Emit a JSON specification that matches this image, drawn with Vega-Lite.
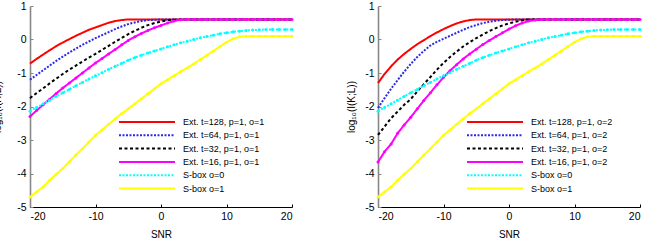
{
  "$schema": "https://vega.github.io/schema/vega-lite/v6.json",
  "padding": {"left": -8, "top": 1, "right": 0, "bottom": 0},
  "background": "white",
  "spacing": 50,
  "config": {
    "view": {"stroke": null},
    "font": "Liberation Sans",
    "axis": {
      "grid": false,
      "labelFont": "Liberation Sans",
      "labelFontSize": 10.5,
      "labelColor": "#000",
      "labelOverlap": false,
      "labelExpr": "'' + datum.value",
      "titleFont": "Liberation Sans",
      "titleFontSize": 10,
      "titleFontWeight": "normal",
      "titleColor": "#000",
      "tickSize": -3,
      "labelPadding": 7
    },
    "axisX": {"domainColor": "#000", "tickColor": "#000", "domainWidth": 1.2},
    "axisY": {"domainColor": "#888", "tickColor": "#888", "domainWidth": 1.6},
    "legend": {
      "orient": "none",
      "legendX": 111,
      "legendY": 110,
      "symbolType": "M-5.6,0H5.6",
      "symbolSize": 100,
      "symbolStrokeWidth": 2,
      "labelFont": "Liberation Sans",
      "labelFontSize": 9,
      "labelColor": "#000",
      "labelOffset": 30,
      "rowPadding": 2.3,
      "title": null
    }
  },
  "datasets": {
    "curves": [
      {"g":"o1","s":"r","x":-20,"v":-0.72},{"g":"o1","s":"r","x":-19,"v":-0.58},{"g":"o1","s":"r","x":-18,"v":-0.45},{"g":"o1","s":"r","x":-17,"v":-0.32},
      {"g":"o1","s":"r","x":-16,"v":-0.2},{"g":"o1","s":"r","x":-15,"v":-0.09},{"g":"o1","s":"r","x":-14,"v":0.01},{"g":"o1","s":"r","x":-13,"v":0.11},
      {"g":"o1","s":"r","x":-12,"v":0.2},{"g":"o1","s":"r","x":-11,"v":0.29},{"g":"o1","s":"r","x":-10,"v":0.36},{"g":"o1","s":"r","x":-9,"v":0.43},
      {"g":"o1","s":"r","x":-8,"v":0.5},{"g":"o1","s":"r","x":-7,"v":0.55},{"g":"o1","s":"r","x":-6,"v":0.58},{"g":"o1","s":"r","x":-5,"v":0.6},
      {"g":"o1","s":"r","x":20,"v":0.6},

      {"g":"o1","s":"b","x":-20,"v":-1.2},{"g":"o1","s":"b","x":-19,"v":-1.06},{"g":"o1","s":"b","x":-18,"v":-0.92},{"g":"o1","s":"b","x":-17,"v":-0.78},
      {"g":"o1","s":"b","x":-16,"v":-0.64},{"g":"o1","s":"b","x":-15,"v":-0.51},{"g":"o1","s":"b","x":-14,"v":-0.39},{"g":"o1","s":"b","x":-13,"v":-0.27},
      {"g":"o1","s":"b","x":-12,"v":-0.16},{"g":"o1","s":"b","x":-11,"v":-0.06},{"g":"o1","s":"b","x":-10,"v":0.04},{"g":"o1","s":"b","x":-9,"v":0.13},
      {"g":"o1","s":"b","x":-8,"v":0.22},{"g":"o1","s":"b","x":-7,"v":0.31},{"g":"o1","s":"b","x":-6,"v":0.39},{"g":"o1","s":"b","x":-5,"v":0.46},
      {"g":"o1","s":"b","x":-4,"v":0.51},{"g":"o1","s":"b","x":-3,"v":0.55},{"g":"o1","s":"b","x":-2,"v":0.58},{"g":"o1","s":"b","x":-1,"v":0.59},
      {"g":"o1","s":"b","x":0,"v":0.6},{"g":"o1","s":"b","x":20,"v":0.6},

      {"g":"o1","s":"k","x":-20,"v":-1.75},{"g":"o1","s":"k","x":-19,"v":-1.6},{"g":"o1","s":"k","x":-18,"v":-1.46},{"g":"o1","s":"k","x":-17,"v":-1.31},
      {"g":"o1","s":"k","x":-16,"v":-1.17},{"g":"o1","s":"k","x":-15,"v":-1.03},{"g":"o1","s":"k","x":-14,"v":-0.9},{"g":"o1","s":"k","x":-13,"v":-0.78},
      {"g":"o1","s":"k","x":-12,"v":-0.66},{"g":"o1","s":"k","x":-11,"v":-0.54},{"g":"o1","s":"k","x":-10,"v":-0.43},{"g":"o1","s":"k","x":-9,"v":-0.31},
      {"g":"o1","s":"k","x":-8,"v":-0.19},{"g":"o1","s":"k","x":-7,"v":-0.07},{"g":"o1","s":"k","x":-6,"v":0.05},{"g":"o1","s":"k","x":-5,"v":0.16},
      {"g":"o1","s":"k","x":-4,"v":0.26},{"g":"o1","s":"k","x":-3,"v":0.35},{"g":"o1","s":"k","x":-2,"v":0.43},{"g":"o1","s":"k","x":-1,"v":0.49},
      {"g":"o1","s":"k","x":0,"v":0.54},{"g":"o1","s":"k","x":1,"v":0.57},{"g":"o1","s":"k","x":2,"v":0.59},{"g":"o1","s":"k","x":3,"v":0.6},
      {"g":"o1","s":"k","x":20,"v":0.6},

      {"g":"o1","s":"m","x":-20,"v":-2.3},{"g":"o1","s":"m","x":-19,"v":-2.12},{"g":"o1","s":"m","x":-18,"v":-1.95},{"g":"o1","s":"m","x":-17,"v":-1.78},
      {"g":"o1","s":"m","x":-16,"v":-1.61},{"g":"o1","s":"m","x":-15,"v":-1.45},{"g":"o1","s":"m","x":-14,"v":-1.3},{"g":"o1","s":"m","x":-13,"v":-1.15},
      {"g":"o1","s":"m","x":-12,"v":-1.0},{"g":"o1","s":"m","x":-11,"v":-0.85},{"g":"o1","s":"m","x":-10,"v":-0.7},{"g":"o1","s":"m","x":-9,"v":-0.57},
      {"g":"o1","s":"m","x":-8,"v":-0.43},{"g":"o1","s":"m","x":-7,"v":-0.3},{"g":"o1","s":"m","x":-6,"v":-0.16},{"g":"o1","s":"m","x":-5,"v":-0.03},
      {"g":"o1","s":"m","x":-4,"v":0.08},{"g":"o1","s":"m","x":-3,"v":0.18},{"g":"o1","s":"m","x":-2,"v":0.27},{"g":"o1","s":"m","x":-1,"v":0.35},
      {"g":"o1","s":"m","x":0,"v":0.42},{"g":"o1","s":"m","x":1,"v":0.49},{"g":"o1","s":"m","x":2,"v":0.55},{"g":"o1","s":"m","x":3,"v":0.59},
      {"g":"o1","s":"m","x":4,"v":0.6},{"g":"o1","s":"m","x":5,"v":0.6},{"g":"o1","s":"m","x":6,"v":0.6},{"g":"o1","s":"m","x":7,"v":0.6},
      {"g":"o1","s":"m","x":8,"v":0.6},{"g":"o1","s":"m","x":9,"v":0.6},{"g":"o1","s":"m","x":10,"v":0.6},{"g":"o1","s":"m","x":11,"v":0.6},
      {"g":"o1","s":"m","x":12,"v":0.6},{"g":"o1","s":"m","x":13,"v":0.6},{"g":"o1","s":"m","x":14,"v":0.6},{"g":"o1","s":"m","x":15,"v":0.6},
      {"g":"o1","s":"m","x":16,"v":0.6},{"g":"o1","s":"m","x":17,"v":0.6},{"g":"o1","s":"m","x":18,"v":0.6},{"g":"o1","s":"m","x":19,"v":0.6},
      {"g":"o1","s":"m","x":20,"v":0.6},

      {"g":"o2","s":"r","x":-20,"v":-1.3},{"g":"o2","s":"r","x":-19,"v":-1.03},{"g":"o2","s":"r","x":-18,"v":-0.8},{"g":"o2","s":"r","x":-17,"v":-0.6},
      {"g":"o2","s":"r","x":-16,"v":-0.43},{"g":"o2","s":"r","x":-15,"v":-0.28},{"g":"o2","s":"r","x":-14,"v":-0.14},{"g":"o2","s":"r","x":-13,"v":-0.02},
      {"g":"o2","s":"r","x":-12,"v":0.1},{"g":"o2","s":"r","x":-11,"v":0.21},{"g":"o2","s":"r","x":-10,"v":0.31},{"g":"o2","s":"r","x":-9,"v":0.4},
      {"g":"o2","s":"r","x":-8,"v":0.48},{"g":"o2","s":"r","x":-7,"v":0.54},{"g":"o2","s":"r","x":-6,"v":0.58},{"g":"o2","s":"r","x":-5,"v":0.6},
      {"g":"o2","s":"r","x":20,"v":0.6},

      {"g":"o2","s":"b","x":-20,"v":-2.04},{"g":"o2","s":"b","x":-19,"v":-1.75},{"g":"o2","s":"b","x":-18,"v":-1.47},{"g":"o2","s":"b","x":-17,"v":-1.21},
      {"g":"o2","s":"b","x":-16,"v":-0.96},{"g":"o2","s":"b","x":-15,"v":-0.73},{"g":"o2","s":"b","x":-14,"v":-0.52},{"g":"o2","s":"b","x":-13,"v":-0.34},
      {"g":"o2","s":"b","x":-12,"v":-0.18},{"g":"o2","s":"b","x":-11,"v":-0.07},{"g":"o2","s":"b","x":-10,"v":0.02},{"g":"o2","s":"b","x":-9,"v":0.11},
      {"g":"o2","s":"b","x":-8,"v":0.2},{"g":"o2","s":"b","x":-7,"v":0.29},{"g":"o2","s":"b","x":-6,"v":0.37},{"g":"o2","s":"b","x":-5,"v":0.43},
      {"g":"o2","s":"b","x":-4,"v":0.49},{"g":"o2","s":"b","x":-3,"v":0.53},{"g":"o2","s":"b","x":-2,"v":0.56},{"g":"o2","s":"b","x":-1,"v":0.58},
      {"g":"o2","s":"b","x":0,"v":0.59},{"g":"o2","s":"b","x":1,"v":0.6},{"g":"o2","s":"b","x":20,"v":0.6},

      {"g":"o2","s":"k","x":-20,"v":-2.85},{"g":"o2","s":"k","x":-19,"v":-2.6},{"g":"o2","s":"k","x":-18,"v":-2.35},{"g":"o2","s":"k","x":-17,"v":-2.15},
      {"g":"o2","s":"k","x":-16,"v":-1.95},{"g":"o2","s":"k","x":-15,"v":-1.78},{"g":"o2","s":"k","x":-14,"v":-1.55},{"g":"o2","s":"k","x":-13,"v":-1.33},
      {"g":"o2","s":"k","x":-12,"v":-1.12},{"g":"o2","s":"k","x":-11,"v":-0.9},{"g":"o2","s":"k","x":-10,"v":-0.7},{"g":"o2","s":"k","x":-9,"v":-0.52},
      {"g":"o2","s":"k","x":-8,"v":-0.36},{"g":"o2","s":"k","x":-7,"v":-0.21},{"g":"o2","s":"k","x":-6,"v":-0.08},{"g":"o2","s":"k","x":-5,"v":0.04},
      {"g":"o2","s":"k","x":-4,"v":0.15},{"g":"o2","s":"k","x":-3,"v":0.25},{"g":"o2","s":"k","x":-2,"v":0.34},{"g":"o2","s":"k","x":-1,"v":0.42},
      {"g":"o2","s":"k","x":0,"v":0.48},{"g":"o2","s":"k","x":1,"v":0.53},{"g":"o2","s":"k","x":2,"v":0.57},{"g":"o2","s":"k","x":3,"v":0.6},
      {"g":"o2","s":"k","x":20,"v":0.6},

      {"g":"o2","s":"m","x":-20,"v":-3.66},{"g":"o2","s":"m","x":-19,"v":-3.35},{"g":"o2","s":"m","x":-18,"v":-3.12},{"g":"o2","s":"m","x":-17,"v":-2.8},
      {"g":"o2","s":"m","x":-16,"v":-2.55},{"g":"o2","s":"m","x":-15,"v":-2.32},{"g":"o2","s":"m","x":-14,"v":-2.07},{"g":"o2","s":"m","x":-13,"v":-1.82},
      {"g":"o2","s":"m","x":-12,"v":-1.59},{"g":"o2","s":"m","x":-11,"v":-1.35},{"g":"o2","s":"m","x":-10,"v":-1.13},{"g":"o2","s":"m","x":-9,"v":-0.93},
      {"g":"o2","s":"m","x":-8,"v":-0.75},{"g":"o2","s":"m","x":-7,"v":-0.58},{"g":"o2","s":"m","x":-6,"v":-0.43},{"g":"o2","s":"m","x":-5,"v":-0.29},
      {"g":"o2","s":"m","x":-4,"v":-0.15},{"g":"o2","s":"m","x":-3,"v":-0.03},{"g":"o2","s":"m","x":-2,"v":0.09},{"g":"o2","s":"m","x":-1,"v":0.2},
      {"g":"o2","s":"m","x":0,"v":0.31},{"g":"o2","s":"m","x":1,"v":0.41},{"g":"o2","s":"m","x":2,"v":0.49},{"g":"o2","s":"m","x":3,"v":0.55},
      {"g":"o2","s":"m","x":4,"v":0.58},{"g":"o2","s":"m","x":5,"v":0.6},{"g":"o2","s":"m","x":6,"v":0.6},{"g":"o2","s":"m","x":7,"v":0.6},
      {"g":"o2","s":"m","x":8,"v":0.6},{"g":"o2","s":"m","x":9,"v":0.6},{"g":"o2","s":"m","x":10,"v":0.6},{"g":"o2","s":"m","x":11,"v":0.6},
      {"g":"o2","s":"m","x":12,"v":0.6},{"g":"o2","s":"m","x":13,"v":0.6},{"g":"o2","s":"m","x":14,"v":0.6},{"g":"o2","s":"m","x":15,"v":0.6},
      {"g":"o2","s":"m","x":16,"v":0.6},{"g":"o2","s":"m","x":17,"v":0.6},{"g":"o2","s":"m","x":18,"v":0.6},{"g":"o2","s":"m","x":19,"v":0.6},
      {"g":"o2","s":"m","x":20,"v":0.6},

      {"g":"all","s":"c","x":-20,"v":-2.14},{"g":"all","s":"c","x":-19,"v":-2.03},{"g":"all","s":"c","x":-18,"v":-1.92},{"g":"all","s":"c","x":-17,"v":-1.81},
      {"g":"all","s":"c","x":-16,"v":-1.7},{"g":"all","s":"c","x":-15,"v":-1.59},{"g":"all","s":"c","x":-14,"v":-1.49},{"g":"all","s":"c","x":-13,"v":-1.38},
      {"g":"all","s":"c","x":-12,"v":-1.28},{"g":"all","s":"c","x":-11,"v":-1.18},{"g":"all","s":"c","x":-10,"v":-1.08},{"g":"all","s":"c","x":-9,"v":-0.99},
      {"g":"all","s":"c","x":-8,"v":-0.89},{"g":"all","s":"c","x":-7,"v":-0.8},{"g":"all","s":"c","x":-6,"v":-0.71},{"g":"all","s":"c","x":-5,"v":-0.62},
      {"g":"all","s":"c","x":-4,"v":-0.54},{"g":"all","s":"c","x":-3,"v":-0.47},{"g":"all","s":"c","x":-2,"v":-0.4},{"g":"all","s":"c","x":-1,"v":-0.34},
      {"g":"all","s":"c","x":0,"v":-0.28},{"g":"all","s":"c","x":1,"v":-0.22},{"g":"all","s":"c","x":2,"v":-0.16},{"g":"all","s":"c","x":3,"v":-0.1},
      {"g":"all","s":"c","x":4,"v":-0.05},{"g":"all","s":"c","x":5,"v":0.0},{"g":"all","s":"c","x":6,"v":0.05},{"g":"all","s":"c","x":7,"v":0.09},
      {"g":"all","s":"c","x":8,"v":0.13},{"g":"all","s":"c","x":9,"v":0.17},{"g":"all","s":"c","x":10,"v":0.2},{"g":"all","s":"c","x":11,"v":0.23},
      {"g":"all","s":"c","x":12,"v":0.25},{"g":"all","s":"c","x":13,"v":0.27},{"g":"all","s":"c","x":14,"v":0.28},{"g":"all","s":"c","x":15,"v":0.29},
      {"g":"all","s":"c","x":16,"v":0.3},{"g":"all","s":"c","x":17,"v":0.3},{"g":"all","s":"c","x":18,"v":0.3},{"g":"all","s":"c","x":19,"v":0.3},
      {"g":"all","s":"c","x":20,"v":0.3},

      {"g":"all","s":"y","x":-20,"v":-4.7},{"g":"all","s":"y","x":-19,"v":-4.55},{"g":"all","s":"y","x":-18,"v":-4.4},{"g":"all","s":"y","x":-17,"v":-4.2},
      {"g":"all","s":"y","x":-16,"v":-4.02},{"g":"all","s":"y","x":-15,"v":-3.85},{"g":"all","s":"y","x":-14,"v":-3.65},{"g":"all","s":"y","x":-13,"v":-3.45},
      {"g":"all","s":"y","x":-12,"v":-3.26},{"g":"all","s":"y","x":-11,"v":-3.06},{"g":"all","s":"y","x":-10,"v":-2.86},{"g":"all","s":"y","x":-9,"v":-2.7},
      {"g":"all","s":"y","x":-8,"v":-2.53},{"g":"all","s":"y","x":-7,"v":-2.37},{"g":"all","s":"y","x":-6,"v":-2.21},{"g":"all","s":"y","x":-5,"v":-2.07},
      {"g":"all","s":"y","x":-4,"v":-1.92},{"g":"all","s":"y","x":-3,"v":-1.77},{"g":"all","s":"y","x":-2,"v":-1.62},{"g":"all","s":"y","x":-1,"v":-1.47},
      {"g":"all","s":"y","x":0,"v":-1.32},{"g":"all","s":"y","x":1,"v":-1.2},{"g":"all","s":"y","x":2,"v":-1.08},{"g":"all","s":"y","x":3,"v":-0.96},
      {"g":"all","s":"y","x":4,"v":-0.85},{"g":"all","s":"y","x":5,"v":-0.73},{"g":"all","s":"y","x":6,"v":-0.6},{"g":"all","s":"y","x":7,"v":-0.47},
      {"g":"all","s":"y","x":8,"v":-0.34},{"g":"all","s":"y","x":9,"v":-0.21},{"g":"all","s":"y","x":10,"v":-0.08},{"g":"all","s":"y","x":11,"v":0.02},
      {"g":"all","s":"y","x":12,"v":0.08},{"g":"all","s":"y","x":13,"v":0.1},{"g":"all","s":"y","x":14,"v":0.1},{"g":"all","s":"y","x":15,"v":0.1},
      {"g":"all","s":"y","x":16,"v":0.1},{"g":"all","s":"y","x":17,"v":0.1},{"g":"all","s":"y","x":18,"v":0.1},{"g":"all","s":"y","x":19,"v":0.1},
      {"g":"all","s":"y","x":20,"v":0.1}
    ]
  },
  "resolve": {"legend": {"color": "independent", "strokeDash": "independent"}},
  "hconcat": [
    {
      "width": 262,
      "height": 201,
      "data": {"name": "curves"},
      "transform": [{"filter": "datum.g == 'o1' || datum.g == 'all'"}],
      "encoding": {
        "x": {"field": "x", "type": "quantitative", "title": "SNR",
              "scale": {"domain": [-20, 20], "nice": false},
              "axis": {"values": [-20, -10, 0, 10, 20], "titlePadding": 8}},
        "y": {"field": "v", "type": "quantitative", "title": "log₁₀(I(K;L))",
              "scale": {"domain": [-5, 1], "nice": false},
              "axis": {"values": [-5, -4, -3, -2, -1, 0, 1], "titlePadding": 14}}
      },
      "layer": [
        {
          "mark": {"type": "line", "strokeWidth": 2},
          "encoding": {
            "color": {"field": "s", "type": "nominal",
                      "scale": {"domain": ["r", "b", "k", "m", "c", "y"],
                                "range": ["#ff0000", "#2a2ae6", "#000000", "#ff00ff", "#00ffff", "#ffff00"]},
                      "legend": {"labelExpr": "{'r': 'Ext. t=128, p=1, o=1', 'b': 'Ext. t=64, p=1, o=1', 'k': 'Ext. t=32, p=1, o=1', 'm': 'Ext. t=16, p=1, o=1', 'c': 'S-box o=0', 'y': 'S-box o=1'}[datum.label]"}},
            "strokeDash": {"field": "s", "type": "nominal",
                           "scale": {"domain": ["r", "b", "k", "m", "c", "y"],
                                     "range": [[1, 0], [2, 1.5], [3, 2.5], [1, 0], [2, 1.5], [1, 0]]},
                           "legend": {"labelExpr": "{'r': 'Ext. t=128, p=1, o=1', 'b': 'Ext. t=64, p=1, o=1', 'k': 'Ext. t=32, p=1, o=1', 'm': 'Ext. t=16, p=1, o=1', 'c': 'S-box o=0', 'y': 'S-box o=1'}[datum.label]"}}
          }
        },
        {
          "transform": [{"filter": "datum.s == 'm' || datum.s == 'c' || datum.s == 'y'"}],
          "mark": {"type": "point", "filled": true, "size": 9, "opacity": 1},
          "encoding": {
            "color": {"field": "s", "type": "nominal", "legend": null}
          }
        }
      ]
    },
    {
      "width": 262,
      "height": 201,
      "data": {"name": "curves"},
      "transform": [{"filter": "datum.g == 'o2' || datum.g == 'all'"}],
      "encoding": {
        "x": {"field": "x", "type": "quantitative", "title": "SNR",
              "scale": {"domain": [-20, 20], "nice": false},
              "axis": {"values": [-20, -10, 0, 10, 20], "titlePadding": 8}},
        "y": {"field": "v", "type": "quantitative", "title": "log₁₀(I(K;L))",
              "scale": {"domain": [-5, 1], "nice": false},
              "axis": {"values": [-5, -4, -3, -2, -1, 0, 1], "titlePadding": 8}}
      },
      "layer": [
        {
          "mark": {"type": "line", "strokeWidth": 2},
          "encoding": {
            "color": {"field": "s", "type": "nominal",
                      "scale": {"domain": ["r", "b", "k", "m", "c", "y"],
                                "range": ["#ff0000", "#2a2ae6", "#000000", "#ff00ff", "#00ffff", "#ffff00"]},
                      "legend": {"labelExpr": "{'r': 'Ext. t=128, p=1, o=2', 'b': 'Ext. t=64, p=1, o=2', 'k': 'Ext. t=32, p=1, o=2', 'm': 'Ext. t=16, p=1, o=2', 'c': 'S-box o=0', 'y': 'S-box o=1'}[datum.label]"}},
            "strokeDash": {"field": "s", "type": "nominal",
                           "scale": {"domain": ["r", "b", "k", "m", "c", "y"],
                                     "range": [[1, 0], [2, 1.5], [3, 2.5], [1, 0], [2, 1.5], [1, 0]]},
                           "legend": {"labelExpr": "{'r': 'Ext. t=128, p=1, o=2', 'b': 'Ext. t=64, p=1, o=2', 'k': 'Ext. t=32, p=1, o=2', 'm': 'Ext. t=16, p=1, o=2', 'c': 'S-box o=0', 'y': 'S-box o=1'}[datum.label]"}}
          }
        },
        {
          "transform": [{"filter": "datum.s == 'm' || datum.s == 'c' || datum.s == 'y'"}],
          "mark": {"type": "point", "filled": true, "size": 9, "opacity": 1},
          "encoding": {
            "color": {"field": "s", "type": "nominal", "legend": null}
          }
        }
      ]
    }
  ]
}
